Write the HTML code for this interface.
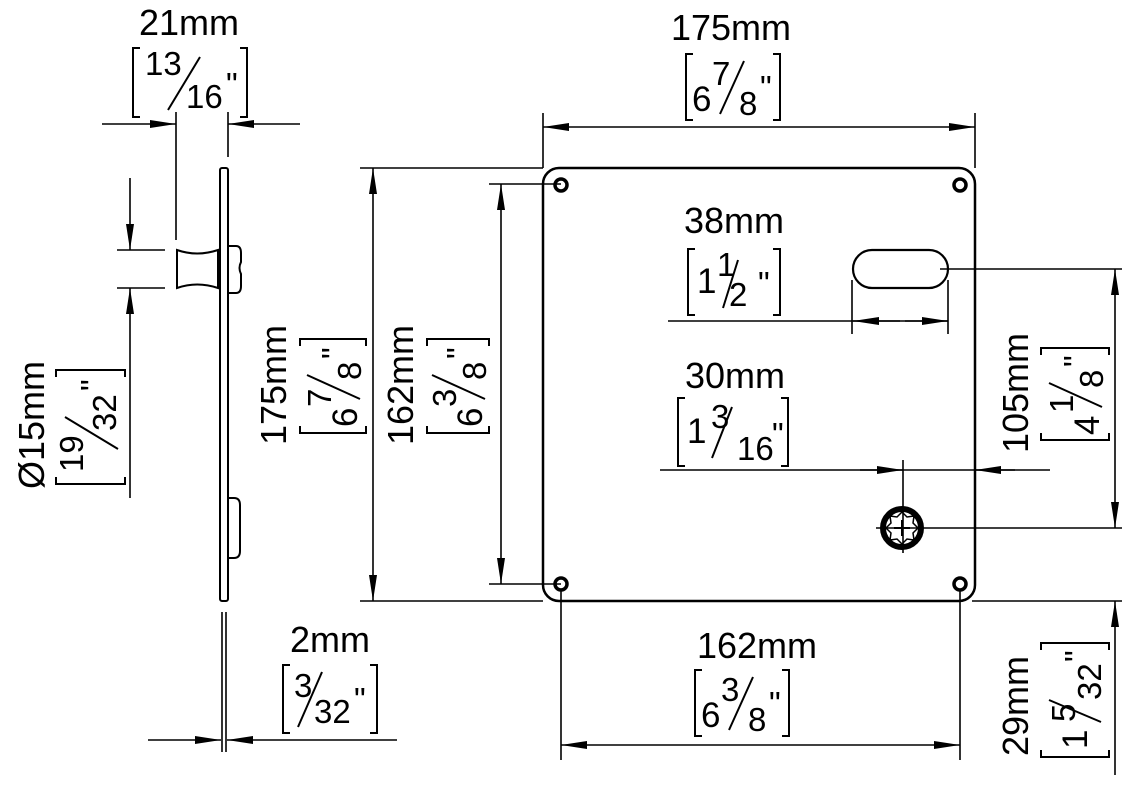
<!DOCTYPE html>
<html><head><meta charset="utf-8"><style>
html,body{margin:0;padding:0;background:#fff;}
svg{display:block;font-family:"Liberation Sans",Arial,sans-serif;}
.w{font-size:35px}.f{font-size:33px}
</style></head><body>
<svg width="1130" height="800" viewBox="0 0 1130 800" xmlns="http://www.w3.org/2000/svg">
<defs>
<marker id="a" markerUnits="userSpaceOnUse" markerWidth="30" markerHeight="10" refX="26" refY="5" orient="auto-start-reverse"><path d="M0,1 L26,5 L0,9 z" fill="#000"/></marker>
</defs>
<g stroke="#000" stroke-width="1.6" fill="none">
<line x1="543" y1="127" x2="975" y2="127" marker-start="url(#a)" marker-end="url(#a)"/>
<line x1="543" y1="113" x2="543" y2="168"/><line x1="975" y1="113" x2="975" y2="168"/>
<line x1="373" y1="168" x2="373" y2="601" marker-start="url(#a)" marker-end="url(#a)"/>
<line x1="360" y1="168" x2="543" y2="168"/><line x1="360" y1="601" x2="543" y2="601"/>
<line x1="501" y1="184" x2="501" y2="584" marker-start="url(#a)" marker-end="url(#a)"/>
<line x1="489" y1="184" x2="561" y2="184"/><line x1="489" y1="584" x2="561" y2="584"/>
<line x1="561" y1="745" x2="960" y2="745" marker-start="url(#a)" marker-end="url(#a)"/>
<line x1="561" y1="590" x2="561" y2="760"/><line x1="960" y1="590" x2="960" y2="760"/>
<line x1="1115" y1="269" x2="1115" y2="528" marker-start="url(#a)" marker-end="url(#a)"/>
<line x1="940" y1="269" x2="1122" y2="269"/>
<line x1="876" y1="528" x2="1122" y2="528"/>
<line x1="1115" y1="775" x2="1115" y2="601" marker-end="url(#a)"/>
<line x1="972" y1="601" x2="1122" y2="601"/>
<line x1="668" y1="321" x2="948" y2="321"/>
<line x1="900" y1="321" x2="853" y2="321" marker-end="url(#a)"/>
<line x1="905" y1="321" x2="948" y2="321" marker-end="url(#a)"/>
<line x1="852" y1="280" x2="852" y2="334"/><line x1="948" y1="280" x2="948" y2="334"/>
<line x1="660" y1="470" x2="1050" y2="470"/>
<line x1="860" y1="470" x2="903" y2="470" marker-end="url(#a)"/>
<line x1="1015" y1="470" x2="975" y2="470" marker-end="url(#a)"/>
<line x1="903" y1="460" x2="903" y2="553"/>
<line x1="102" y1="124" x2="176" y2="124" marker-end="url(#a)"/>
<line x1="300" y1="124" x2="228" y2="124" marker-end="url(#a)"/>
<line x1="176" y1="112" x2="176" y2="240"/><line x1="228" y1="112" x2="228" y2="157"/>
<line x1="130" y1="178" x2="130" y2="250" marker-end="url(#a)"/>
<line x1="130" y1="498" x2="130" y2="288" marker-end="url(#a)"/>
<line x1="117" y1="250" x2="165" y2="250"/><line x1="117" y1="288" x2="165" y2="288"/>
<line x1="148" y1="740" x2="221" y2="740" marker-end="url(#a)"/>
<line x1="397" y1="740" x2="227" y2="740" marker-end="url(#a)"/>
<line x1="222" y1="612" x2="222" y2="752"/><line x1="226" y1="612" x2="226" y2="752"/>
</g>
<rect x="543" y="168" width="432" height="433" rx="16" fill="none" stroke="#000" stroke-width="2.5"/>
<g fill="none" stroke="#000" stroke-width="3.5">
<circle cx="561" cy="185" r="6"/><circle cx="960" cy="185" r="6"/>
<circle cx="561" cy="584" r="6"/><circle cx="960" cy="584" r="6"/>
</g>
<rect x="853" y="250" width="95" height="38" rx="19" fill="none" stroke="#000" stroke-width="2.2"/>
<circle cx="902" cy="528" r="19" fill="none" stroke="#000" stroke-width="6"/>
<path d="M902,512 L907,517 L914,516 L913,523 L918,528 L913,533 L914,540 L907,539 L902,544 L897,539 L890,540 L891,533 L886,528 L891,523 L890,516 L897,517 Z" fill="none" stroke="#000" stroke-width="1.5"/>
<path d="M902,520 V536 M894,528 H910" stroke="#000" stroke-width="2"/>
<rect x="220" y="168" width="8" height="433" rx="2" fill="#fff" stroke="#000" stroke-width="2"/>
<path d="M177,250 Q197,257 218,250 L218,288 Q197,281 177,288 Z" fill="#fff" stroke="#000" stroke-width="2"/>
<path d="M228,246 H236 Q241,246 241,253 V262 Q238,268 241,274 V286 Q241,293 236,293 H228" fill="none" stroke="#000" stroke-width="2"/>
<path d="M228,498 H234 Q240,498 240,505 V551 Q240,558 234,558 H228" fill="none" stroke="#000" stroke-width="2"/>
<g font-size="36" fill="#000" text-anchor="middle">
<text x="731" y="40">175mm</text>
<text x="189" y="35">21mm</text>
<text x="734" y="233">38mm</text>
<text x="735" y="388">30mm</text>
<text x="757" y="658">162mm</text>
<text x="330" y="652">2mm</text>
<text transform="translate(286,385) rotate(-90)">175mm</text>
<text transform="translate(413,385) rotate(-90)">162mm</text>
<text transform="translate(1028,393) rotate(-90)">105mm</text>
<text transform="translate(1028,706) rotate(-90)">29mm</text>
<text transform="translate(44,425) rotate(-90)">Ø15mm</text>
</g>
<g fill="#000" stroke="#000" stroke-width="2">
<g transform="translate(733,87)"><path d="M-40,-33 H-47 V33 H-40 M40,-33 H47 V33 H40" fill="none"/>
<g stroke="none"><text class="w" x="-41" y="24">6</text><text class="f" x="-21" y="-2">7</text><text class="f" x="6" y="28">8</text><text class="f" x="27" y="12">"</text></g>
<line x1="-13" y1="27" x2="11" y2="-26"/></g>
<g transform="translate(742,703)"><path d="M-40,-33 H-47 V33 H-40 M40,-33 H47 V33 H40" fill="none"/>
<g stroke="none"><text class="w" x="-41" y="24">6</text><text class="f" x="-21" y="-2">3</text><text class="f" x="6" y="28">8</text><text class="f" x="27" y="12">"</text></g>
<line x1="-13" y1="27" x2="11" y2="-26"/></g>
<g transform="translate(734,282)"><path d="M-39,-33 H-46 V33 H-39 M39,-33 H46 V33 H39" fill="none"/>
<g stroke="none"><text class="w" x="-37" y="11">1</text><text class="f" x="-17" y="-6">1</text><text class="f" x="-5" y="24">2</text><text class="f" x="24" y="13">"</text></g>
<line x1="-11" y1="26" x2="4" y2="-22"/></g>
<g transform="translate(733,432)"><path d="M-48,-34 H-55 V34 H-48 M48,-34 H55 V34 H48" fill="none"/>
<g stroke="none"><text class="w" x="-46" y="11">1</text><text class="f" x="-22" y="-4">3</text><text class="f" x="4" y="28">16</text><text class="f" x="39" y="14">"</text></g>
<line x1="-21" y1="26" x2="-1" y2="-25"/></g>
<g transform="translate(190,83)"><path d="M-50,-35 H-57 V34 H-50 M50,-35 H57 V34 H50" fill="none"/>
<g stroke="none"><text class="f" x="-45" y="-8">13</text><text class="f" x="-4" y="25">16</text><text class="f" x="36" y="13">"</text></g>
<line x1="-22" y1="27" x2="10" y2="-26"/></g>
<g transform="translate(330,699)"><path d="M-40,-34 H-47 V34 H-40 M40,-34 H47 V34 H40" fill="none"/>
<g stroke="none"><text class="f" x="-36" y="-2">3</text><text class="f" x="-16" y="24">32</text><text class="f" x="24" y="12">"</text></g>
<line x1="-32" y1="28" x2="-8" y2="-27"/></g>
<g transform="translate(333,386) rotate(-90)"><path d="M-40,-33 H-47 V33 H-40 M40,-33 H47 V33 H40" fill="none"/>
<g stroke="none"><text class="w" x="-41" y="24">6</text><text class="f" x="-21" y="-2">7</text><text class="f" x="6" y="28">8</text><text class="f" x="27" y="12">"</text></g>
<line x1="-13" y1="27" x2="11" y2="-26"/></g>
<g transform="translate(458,386) rotate(-90)"><path d="M-40,-31 H-47 V31 H-40 M40,-31 H47 V31 H40" fill="none"/>
<g stroke="none"><text class="w" x="-41" y="24">6</text><text class="f" x="-21" y="-2">3</text><text class="f" x="6" y="28">8</text><text class="f" x="27" y="12">"</text></g>
<line x1="-13" y1="27" x2="11" y2="-26"/></g>
<g transform="translate(1075,394) rotate(-90)"><path d="M-39,-34 H-46 V34 H-39 M39,-34 H46 V34 H39" fill="none"/>
<g stroke="none"><text class="w" x="-41" y="24">4</text><text class="f" x="-19" y="-2">1</text><text class="f" x="6" y="28">8</text><text class="f" x="27" y="12">"</text></g>
<line x1="-13" y1="27" x2="11" y2="-26"/></g>
<g transform="translate(1075,700) rotate(-90)"><path d="M-50,-34 H-57 V34 H-50 M50,-34 H57 V34 H50" fill="none"/>
<g stroke="none"><text class="w" x="-49" y="12">1</text><text class="f" x="-22" y="0">5</text><text class="f" x="0" y="26">32</text><text class="f" x="38" y="13">"</text></g>
<line x1="-22" y1="26" x2="0" y2="-26"/></g>
<g transform="translate(91,427) rotate(-90)"><path d="M-50,-35 H-57 V34 H-50 M50,-35 H57 V34 H50" fill="none"/>
<g stroke="none"><text class="f" x="-45" y="-8">19</text><text class="f" x="-4" y="25">32</text><text class="f" x="36" y="13">"</text></g>
<line x1="-22" y1="27" x2="10" y2="-26"/></g>
</g>
</svg>
</body></html>
